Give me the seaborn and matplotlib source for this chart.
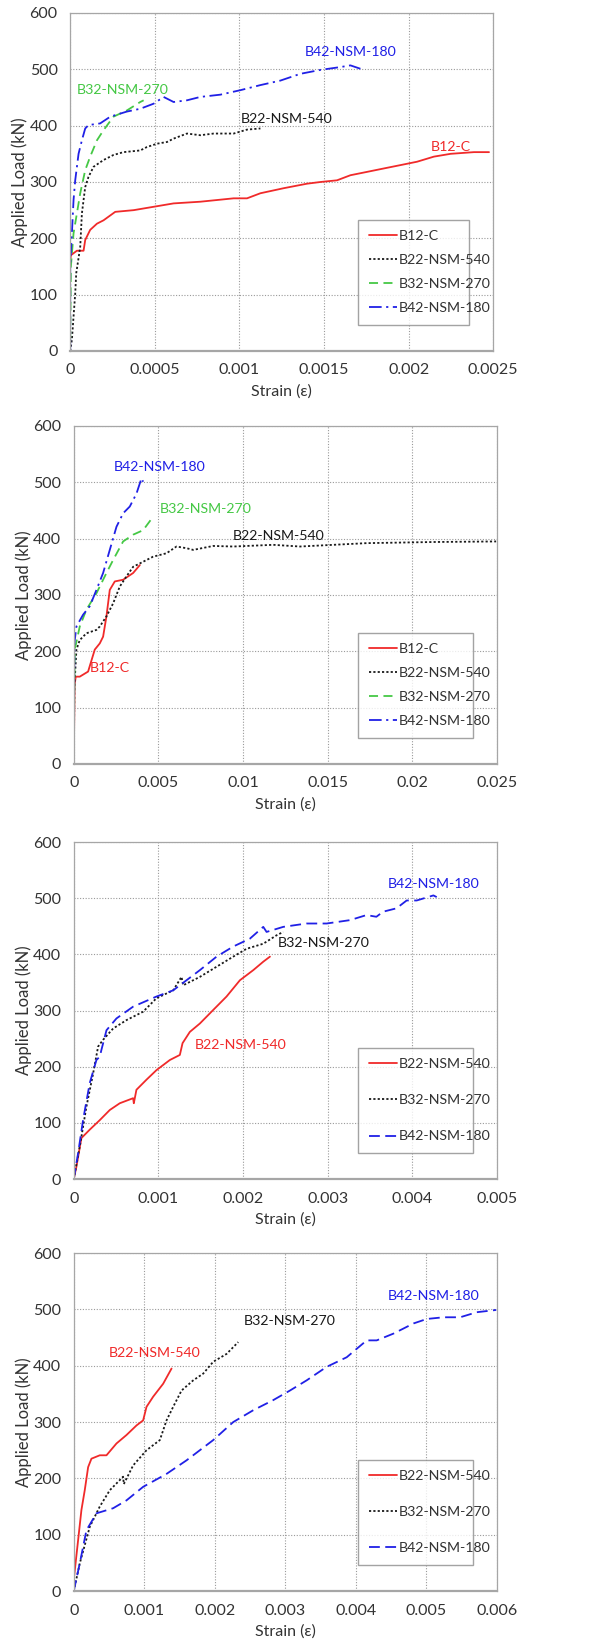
import numpy as np
import pandas as pd
import seaborn as sns
from matplotlib import pyplot as plt

# ---- panel 1 : full view, four beams ----
p1_b12_x = [0, 0.000004, 0.0000394, 0.0000789, 0.0000887, 0.000118, 0.000158, 0.000197, 0.000266, 0.000375,
            0.000493, 0.000611, 0.000769, 0.000966, 0.001045, 0.001124, 0.001262, 0.0014, 0.001479, 0.001577,
            0.001656, 0.001755, 0.001853, 0.001952, 0.00205, 0.002149, 0.002248, 0.002386, 0.002475]
p1_b12_y = [160, 170, 178, 178, 197, 215, 226, 232, 247, 250, 256, 262, 265, 271, 271, 280, 289, 297, 300, 303,
            312, 318, 324, 330, 336, 345, 350, 353, 353]
p1_b22_x = [0, 0.00001, 0.0000197, 0.0000296, 0.0000355, 0.0000493, 0.0000592, 0.000069, 0.0000789, 0.0000887,
            0.000108, 0.000138, 0.000197, 0.000256, 0.000315, 0.000414, 0.000453, 0.000513, 0.000572, 0.000611,
            0.00069, 0.000769, 0.000848, 0.000966, 0.001045, 0.001124]
p1_b22_y = [0, 20, 61, 102, 138, 165, 185, 244, 268, 291, 309, 327, 339, 348, 353, 356, 362, 368, 371, 377,
            386, 383, 386, 386, 393, 395]
p1_b32_x = [0, 0.000004, 0.0000197, 0.0000394, 0.0000592, 0.0000887, 0.000118, 0.000158, 0.000197, 0.000256,
            0.000335, 0.000414, 0.000434]
p1_b32_y = [20, 150, 209, 244, 280, 321, 345, 374, 392, 416, 427, 442, 445]
p1_b42_x = [0, 0, 0.00001, 0.0000197, 0.0000296, 0.0000493, 0.000069, 0.0000887, 0.000108, 0.000177, 0.000237,
            0.000335, 0.000414, 0.000493, 0.000552, 0.000611, 0.00069, 0.000769, 0.000887, 0.001006, 0.001124,
            0.001242, 0.00136, 0.001479, 0.001597, 0.001656, 0.001715]
p1_b42_y = [0, 150, 209, 268, 303, 350, 374, 395, 401, 404, 416, 425, 430, 439, 451, 442, 445, 451, 455, 463,
            472, 480, 492, 499, 504, 507, 501]

# ---- panel 2 : wide strain range, four beams ----
p2_b12_x = [0, 0.00005, 0.000118, 0.000355, 0.000848, 0.001242, 0.001538, 0.001735, 0.001932, 0.002129,
            0.002425, 0.002918, 0.003214, 0.00351, 0.003904]
p2_b12_y = [0, 140, 155, 155, 164, 203, 214, 226, 262, 309, 324, 327, 333, 339, 353]
p2_b22_x = [0, 0.0000394, 0.000158, 0.000355, 0.000749, 0.001341, 0.001538, 0.001932, 0.002326, 0.002721,
            0.003115, 0.00351, 0.003904, 0.004692, 0.005481, 0.006073, 0.006664, 0.007058, 0.008241, 0.009424,
            0.01179, 0.013367, 0.015339, 0.017311, 0.019282, 0.021254, 0.024961]
p2_b22_y = [0, 138, 203, 220, 232, 238, 244, 262, 285, 315, 333, 350, 356, 368, 374, 386, 383, 380, 387, 386,
            389, 386, 389, 392, 393, 394, 395]
p2_b32_x = [0, 0.00002, 0.000059, 0.000355, 0.000749, 0.001341, 0.001932, 0.002326, 0.002918, 0.00351,
            0.004101, 0.004692]
p2_b32_y = [0, 96, 203, 244, 274, 303, 339, 362, 395, 407, 415, 439]
p2_b42_x = [0, 0.0000394, 0.000158, 0.000552, 0.000946, 0.001341, 0.001735, 0.002129, 0.002524, 0.002918,
            0.003312, 0.003707, 0.004003, 0.004101]
p2_b42_y = [0, 215, 244, 265, 280, 309, 339, 380, 421, 445, 457, 480, 507, 501]

# ---- panel 3 : NSM beams ----
p3_b22_x = [0, 0.0000315, 0.0000907, 0.000189, 0.000308, 0.000426, 0.000544, 0.000702, 0.00071, 0.000741,
            0.00086, 0.000978, 0.001136, 0.001254, 0.001286, 0.001372, 0.001491, 0.001648, 0.001806, 0.001964,
            0.002122, 0.00224, 0.002319]
p3_b22_y = [0, 22, 73, 88, 105, 123, 135, 144, 135, 159, 177, 194, 212, 221, 242, 262, 277, 301, 325, 354,
            372, 387, 396]
p3_b32_x = [0, 0.000071, 0.00015, 0.000229, 0.000288, 0.000347, 0.000465, 0.000623, 0.00082, 0.000978,
            0.001175, 0.001274, 0.001293, 0.001491, 0.001688, 0.001885, 0.002043, 0.00224, 0.002397, 0.002476]
p3_b32_y = [0, 58, 129, 188, 236, 248, 268, 283, 298, 322, 336, 360, 345, 360, 378, 396, 410, 419, 434, 440]
p3_b42_x = [0, 0.0000513, 0.00011, 0.000189, 0.000268, 0.000308, 0.000327, 0.000387, 0.000505, 0.000702,
            0.000978, 0.001175, 0.001333, 0.001491, 0.001688, 0.001885, 0.002082, 0.00224, 0.002279, 0.002476,
            0.002752, 0.002989, 0.003265, 0.00346, 0.003577, 0.003656, 0.003814, 0.003935, 0.004054, 0.004251,
            0.00429]
p3_b42_y = [0, 46, 105, 171, 212, 218, 230, 265, 286, 307, 325, 336, 354, 372, 396, 414, 428, 449, 440, 449,
            455, 455, 461, 470, 467, 476, 482, 496, 496, 505, 502]

# ---- panel 4 : NSM beams, second gauge ----
p4_b22_x = [0, 0.0000615, 0.000109, 0.000156, 0.000204, 0.000251, 0.000369, 0.000464, 0.000606, 0.000748,
            0.00089, 0.000984, 0.001032, 0.001126, 0.001268, 0.001387]
p4_b22_y = [20, 90, 144, 179, 220, 235, 241, 241, 262, 277, 294, 303, 327, 345, 368, 395]
p4_b32_x = [0, 0.0000852, 0.000227, 0.000369, 0.000511, 0.0007, 0.00071, 0.000842, 0.001032, 0.001221,
            0.001316, 0.00141, 0.001529, 0.001694, 0.001836, 0.001978, 0.002168, 0.002333]
p4_b32_y = [0, 49, 114, 150, 179, 203, 190, 223, 250, 268, 303, 327, 356, 374, 386, 407, 421, 442]
p4_b42_x = [0, 0.0000852, 0.00018, 0.000322, 0.000558, 0.000748, 0.000984, 0.001316, 0.001599, 0.001978,
            0.002262, 0.002546, 0.00283, 0.003067, 0.003303, 0.003587, 0.003871, 0.004155, 0.004297, 0.004534,
            0.004818, 0.005007, 0.005244, 0.00548, 0.005717, 0.005992]
p4_b42_y = [0, 49, 108, 138, 147, 161, 185, 208, 232, 268, 300, 321, 339, 356, 374, 398, 415, 445, 445, 457,
            475, 483, 486, 486, 495, 499]

x_limits = [0.0025, 0.025, 0.005, 0.006]
x_steps = [0.0005, 0.005, 0.001, 0.001]
x_ticklabels = [["0", "0.0005", "0.001", "0.0015", "0.002", "0.0025"],
                ["0", "0.005", "0.01", "0.015", "0.02", "0.025"],
                ["0", "0.001", "0.002", "0.003", "0.004", "0.005"],
                ["0", "0.001", "0.002", "0.003", "0.004", "0.005", "0.006"]]

RED, BLACK, GREEN, BLUE = "#f02a2a", "#1a1a1a", "#45c845", "#2020e6"
solid = dict(linestyle="-")
dotted = dict(dashes=(1.2, 1.2))
dashed = dict(dashes=(5, 3))
dashdot = dict(dashes=(7, 2.5, 1.2, 2.5))
longdash = dict(dashes=(6, 3))

panels = [
    [("B12-C", p1_b12_x, p1_b12_y, RED, solid),
     ("B22-NSM-540", p1_b22_x, p1_b22_y, BLACK, dotted),
     ("B32-NSM-270", p1_b32_x, p1_b32_y, GREEN, dashed),
     ("B42-NSM-180", p1_b42_x, p1_b42_y, BLUE, dashdot)],
    [("B12-C", p2_b12_x, p2_b12_y, RED, solid),
     ("B22-NSM-540", p2_b22_x, p2_b22_y, BLACK, dotted),
     ("B32-NSM-270", p2_b32_x, p2_b32_y, GREEN, dashed),
     ("B42-NSM-180", p2_b42_x, p2_b42_y, BLUE, dashdot)],
    [("B22-NSM-540", p3_b22_x, p3_b22_y, RED, solid),
     ("B32-NSM-270", p3_b32_x, p3_b32_y, BLACK, dotted),
     ("B42-NSM-180", p3_b42_x, p3_b42_y, BLUE, longdash)],
    [("B22-NSM-540", p4_b22_x, p4_b22_y, RED, solid),
     ("B32-NSM-270", p4_b32_x, p4_b32_y, BLACK, dotted),
     ("B42-NSM-180", p4_b42_x, p4_b42_y, BLUE, longdash)],
]

# in-plot curve labels (text, strain, load, colour)
annotations = [
    [("B42-NSM-180", 0.001656, 531, BLUE), ("B32-NSM-270", 0.000312, 463, GREEN),
     ("B22-NSM-540", 0.001278, 412, BLACK), ("B12-C", 0.002252, 363, RED)],
    [("B42-NSM-180", 0.005047, 528, BLUE), ("B32-NSM-270", 0.007788, 453, GREEN),
     ("B22-NSM-540", 0.012125, 405, BLACK), ("B12-C", 0.002129, 171, RED)],
    [("B42-NSM-180", 0.004259, 525, BLUE), ("B32-NSM-270", 0.002957, 421, BLACK),
     ("B22-NSM-540", 0.001975, 238, RED)],
    [("B42-NSM-180", 0.005111, 524, BLUE), ("B32-NSM-270", 0.003067, 479, BLACK),
     ("B22-NSM-540", 0.00115, 423, RED)],
]

sns.set_style("white")
plt.rcParams['font.family'] = ['Lato', 'DejaVu Sans']
plt.rcParams['text.color'] = "#333333"

fig = plt.figure(figsize=(5.9, 16.44), dpi=100)
boxes = [[0.119, 0.7865, 0.717, 0.2056],
         [0.125, 0.5353, 0.717, 0.2056],
         [0.125, 0.2828, 0.717, 0.2050],
         [0.125, 0.0322, 0.717, 0.2056]]
legend_boxes = [(0.664, 0.056, 0.296, 0.305),
                (0.655, 0.056, 0.305, 0.305),
                (0.655, 0.056, 0.305, 0.305),
                (0.655, 0.056, 0.305, 0.305)]

for i, series in enumerate(panels):
    ax = fig.add_axes(boxes[i])
    for name, xs, ys, col, style in series:
        sns.lineplot(x=xs, y=ys, ax=ax, color=col, linewidth=1.3, sort=False,
                     estimator=None, label=name, **style)
    for txt, tx, ty, col in annotations[i]:
        ax.text(tx, ty, txt, color=col, fontsize=10.2, ha="center", va="center")

    ax.set_xlim(0, x_limits[i])
    ax.set_ylim(0, 600)
    ax.set_xticks(np.arange(0, x_limits[i] + x_steps[i] / 2, x_steps[i]))
    ax.set_xticklabels(x_ticklabels[i])
    ax.set_yticks(np.arange(0, 601, 100))
    ax.tick_params(length=0, labelsize=11.5, colors="#333333", pad=9)
    ax.grid(color="#9a9a9a", linestyle=(0, (1, 1.5)), linewidth=0.8)
    for side in ["top", "right", "left"]:
        ax.spines[side].set_color("#a6a6a6")
        ax.spines[side].set_linewidth(0.9)
    ax.spines["bottom"].set_color("#a6a6a6")
    ax.spines["bottom"].set_linewidth(1.6)
    ax.set_xlabel("Strain (ε)", fontsize=11.5, color="#333333", labelpad=5)
    ax.set_ylabel("Applied Load (kN)", fontsize=12, color="#333333", labelpad=1)

    spacing = 0.85 if len(series) == 4 else 1.7
    leg = ax.legend(loc="lower left", bbox_to_anchor=legend_boxes[i], mode="expand",
                    fontsize=10.2, handlelength=2.0, handletextpad=0.1, labelspacing=spacing,
                    borderpad=0.75, fancybox=False, frameon=True, shadow=False)
    leg.get_frame().set_edgecolor("#8c8c8c")
    leg.get_frame().set_linewidth(1.0)

fig.savefig("out.png", dpi=100)
